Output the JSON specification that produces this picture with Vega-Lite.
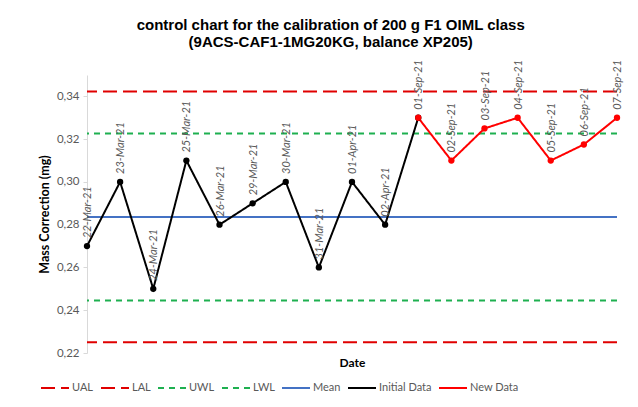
{
  "$schema": "https://vega.github.io/schema/vega-lite/v6.json",
  "autosize": "none",
  "width": 530,
  "height": 278,
  "padding": {"left": 87, "right": 21, "top": 75, "bottom": 54},
  "background": "white",
  "title": {
    "text": ["control chart for the calibration of 200 g F1 OIML class", "(9ACS-CAF1-1MG20KG, balance XP205)"],
    "font": "Liberation Sans",
    "fontSize": 15,
    "fontWeight": "bold",
    "color": "#000000",
    "anchor": "middle",
    "frame": "bounds",
    "offset": 10,
    "lineHeight": 17
  },
  "datasets": {
    "obs": [
      {"date": "22-Mar-21", "value": 0.27, "series": "Initial Data", "lab": 1},
      {"date": "23-Mar-21", "value": 0.30, "series": "Initial Data", "lab": 1},
      {"date": "24-Mar-21", "value": 0.25, "series": "Initial Data", "lab": 1},
      {"date": "25-Mar-21", "value": 0.31, "series": "Initial Data", "lab": 1},
      {"date": "26-Mar-21", "value": 0.28, "series": "Initial Data", "lab": 1},
      {"date": "29-Mar-21", "value": 0.29, "series": "Initial Data", "lab": 1},
      {"date": "30-Mar-21", "value": 0.30, "series": "Initial Data", "lab": 1},
      {"date": "31-Mar-21", "value": 0.26, "series": "Initial Data", "lab": 1},
      {"date": "01-Apr-21", "value": 0.30, "series": "Initial Data", "lab": 1},
      {"date": "02-Apr-21", "value": 0.28, "series": "Initial Data", "lab": 1},
      {"date": "01-Sep-21", "value": 0.33, "series": "Initial Data", "lab": 0},
      {"date": "01-Sep-21", "value": 0.33, "series": "New Data", "lab": 1},
      {"date": "02-Sep-21", "value": 0.31, "series": "New Data", "lab": 1},
      {"date": "03-Sep-21", "value": 0.325, "series": "New Data", "lab": 1},
      {"date": "04-Sep-21", "value": 0.33, "series": "New Data", "lab": 1},
      {"date": "05-Sep-21", "value": 0.31, "series": "New Data", "lab": 1},
      {"date": "06-Sep-21", "value": 0.3175, "series": "New Data", "lab": 1},
      {"date": "07-Sep-21", "value": 0.33, "series": "New Data", "lab": 1}
    ],
    "limits": [
      {"series": "UAL", "value": 0.3423},
      {"series": "LAL", "value": 0.2250},
      {"series": "UWL", "value": 0.3226},
      {"series": "LWL", "value": 0.2446},
      {"series": "Mean", "value": 0.2836}
    ]
  },
  "encoding": {
    "y": {
      "field": "value",
      "type": "quantitative",
      "scale": {"domain": [0.22, 0.35], "nice": false, "zero": false},
      "axis": {
        "title": "Mass Correction (mg)",
        "titleFont": "Lato",
        "titleFontSize": 12.5,
        "titleFontWeight": "bold",
        "titleColor": "#000000",
        "titlePadding": 5,
        "values": [0.22, 0.24, 0.26, 0.28, 0.30, 0.32, 0.34],
        "labelExpr": "replace(format(datum.value, '.2f'), '.', ',')",
        "labelFont": "Lato",
        "labelFontSize": 11.5,
        "labelColor": "#595959",
        "grid": false,
        "domainColor": "#d9d9d9",
        "tickColor": "#d9d9d9",
        "tickSize": 4,
        "labelPadding": 4
      }
    },
    "color": {
      "field": "series",
      "type": "nominal",
      "scale": {
        "domain": ["UAL", "LAL", "UWL", "LWL", "Mean", "Initial Data", "New Data"],
        "range": ["#e00000", "#e00000", "#1eb050", "#1eb050", "#4472c4", "#000000", "#ff0000"]
      },
      "legend": {
        "title": null,
        "orient": "none",
        "legendX": -47,
        "legendY": 298,
        "direction": "horizontal",
        "columns": 7,
        "symbolType": "stroke",
        "symbolSize": 784,
        "symbolStrokeWidth": 2,
        "labelFont": "Lato",
        "labelFontSize": 11,
        "labelColor": "#595959",
        "labelOffset": 2,
        "columnPadding": 3
      }
    },
    "strokeDash": {
      "field": "series",
      "type": "nominal",
      "scale": {
        "domain": ["UAL", "LAL", "UWL", "LWL", "Mean", "Initial Data", "New Data"],
        "range": [[14, 6], [14, 6], [6, 5], [6, 5], [1, 0], [1, 0], [1, 0]]
      },
      "legend": {
        "title": null,
        "orient": "none",
        "legendX": -47,
        "legendY": 298,
        "direction": "horizontal",
        "columns": 7,
        "symbolType": "stroke",
        "symbolSize": 784,
        "symbolStrokeWidth": 2,
        "labelFont": "Lato",
        "labelFontSize": 11,
        "labelColor": "#595959",
        "labelOffset": 2,
        "columnPadding": 3
      }
    }
  },
  "layer": [
    {
      "data": {"name": "limits"},
      "mark": {"type": "rule", "strokeWidth": 2}
    },
    {
      "data": {"name": "obs"},
      "mark": {"type": "line", "strokeWidth": 2},
      "encoding": {
        "x": {
          "field": "date",
          "type": "ordinal",
          "scale": {
            "type": "point",
            "padding": 0,
            "domain": ["22-Mar-21", "23-Mar-21", "24-Mar-21", "25-Mar-21", "26-Mar-21", "29-Mar-21", "30-Mar-21", "31-Mar-21", "01-Apr-21", "02-Apr-21", "01-Sep-21", "02-Sep-21", "03-Sep-21", "04-Sep-21", "05-Sep-21", "06-Sep-21", "07-Sep-21"]
          },
          "axis": {
            "title": "Date",
            "titleFont": "Lato",
            "titleFontSize": 12,
            "titleFontWeight": "bold",
            "titleColor": "#000000",
            "labels": false,
            "ticks": false,
            "domain": false,
            "titlePadding": 4
          }
        }
      }
    },
    {
      "data": {"name": "obs"},
      "transform": [{"filter": "datum.series == 'Initial Data'"}],
      "mark": {"type": "point", "filled": true, "size": 40, "opacity": 1},
      "encoding": {"x": {"field": "date", "type": "ordinal"}, "color": {"value": "#000000"}, "strokeDash": null}
    },
    {
      "data": {"name": "obs"},
      "transform": [{"filter": "datum.series == 'New Data'"}],
      "mark": {"type": "point", "filled": true, "size": 40, "opacity": 1},
      "encoding": {"x": {"field": "date", "type": "ordinal"}, "color": {"value": "#ff0000"}, "strokeDash": null}
    },
    {
      "data": {"name": "obs"},
      "transform": [{"filter": "datum.lab == 1"}],
      "mark": {"type": "text", "angle": -90, "align": "left", "baseline": "middle", "dx": 8, "dy": 1, "font": "Lato", "fontSize": 11, "fontStyle": "italic"},
      "encoding": {
        "x": {"field": "date", "type": "ordinal"},
        "text": {"field": "date"},
        "color": {"value": "#595959"},
        "strokeDash": null
      }
    }
  ],
  "config": {
    "view": {"stroke": null}
  }
}
